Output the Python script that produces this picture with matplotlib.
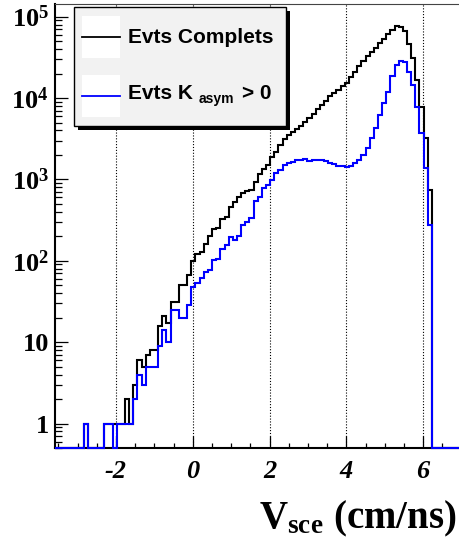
import numpy as np
import matplotlib
matplotlib.use("Agg")
import matplotlib.pyplot as plt
from matplotlib.patches import Rectangle
from matplotlib.lines import Line2D
from matplotlib.ticker import MultipleLocator, LogLocator, NullFormatter

# histogram definition: 100 bins from -3.6 to 7.2 cm/ns
x_lo, x_hi, n_bins = -3.6, 7.2, 100

evts_complets = [
    0, 0, 0, 0, 0, 0, 0, 1, 0, 0,
    0, 0, 1, 1, 1, 1, 1, 2, 1, 3,
    6, 5, 7, 8, 8, 16, 21, 17, 31, 31,
    51, 51, 66, 100, 121, 128, 162, 203, 243, 254,
    322, 342, 457, 525, 600, 676, 724, 741, 933, 1150,
    1350, 1510, 1860, 2140, 2630, 3160, 3470, 3800, 4170, 4570,
    5130, 5620, 6310, 7240, 8130, 9120, 10470, 11500, 12600, 14100,
    15500, 18200, 20900, 24500, 28200, 32400, 36300, 41700, 47300, 53300,
    61000, 68800, 77000, 75000, 66000, 46000, 31000, 16700, 7800, 3250,
    750, 0, 0, 0, 0, 0, 0, 0, 0, 0,
]

evts_kasym = [
    0, 0, 0, 0, 0, 0, 0, 1, 0, 0,
    0, 0, 1, 1, 0, 1, 1, 1, 1, 2,
    4, 3, 5, 5, 5, 9, 14, 10, 25, 25,
    20, 20, 29, 48, 53, 62, 73, 78, 102, 104,
    138, 156, 197, 178, 200, 275, 300, 332, 540, 600,
    776, 850, 990, 1190, 1300, 1500, 1580, 1650, 1740, 1720,
    1760, 1700, 1720, 1720, 1720, 1680, 1590, 1530, 1480, 1480,
    1430, 1450, 1590, 1740, 2000, 2400, 3200, 4260, 6200, 8650,
    12000, 18800, 25300, 28900, 27700, 21000, 14600, 7800, 3700, 1370,
    275, 0, 0, 0, 0, 0, 0, 0, 0, 0,
]

y_ticks = [1, 10, 100, 1e3, 1e4, 1e5]
y_labels = ["1", "10", r"$10^{2}$", r"$10^{3}$", r"$10^{4}$", r"$10^{5}$"]
x_ticks = [-2, 0, 2, 4, 6]
x_labels = ["-2", "0", "2", "4", "6"]

plt.rcParams["mathtext.fontset"] = "custom"
plt.rcParams["mathtext.rm"] = "Liberation Serif:bold"
plt.rcParams["mathtext.it"] = "Liberation Serif:italic:bold"
plt.rcParams["mathtext.bf"] = "Liberation Serif:bold"

W, H = 459, 541
ymin, ymax = 0.5, 1.43e5

fig = plt.figure(figsize=(W / 100, H / 100), dpi=100)
ax = fig.add_axes([54.5 / W, (H - 448) / H, 414.7 / W, 444 / H])
ax.set_yscale("log")
ax.set_xlim(x_lo, x_hi)
ax.set_ylim(ymin, ymax)

edges = np.linspace(x_lo, x_hi, n_bins + 1)
for x in x_ticks:
    ax.axvline(x, color="k", lw=0.8, ls=(0, (1, 1.6)), zorder=0)

ax.stairs(np.maximum(evts_complets, ymin), edges, baseline=None,
          color="black", lw=1.5, clip_on=False, zorder=3)
ax.stairs(np.maximum(evts_kasym, ymin), edges, baseline=None,
          color="#0000ff", lw=1.5, clip_on=False, zorder=4)

# axes styling
for s in ["left", "bottom"]:
    ax.spines[s].set_linewidth(1.5)
ax.spines["top"].set_linewidth(0.8)
ax.spines["top"].set_color("#444444")
ax.spines["right"].set_visible(False)

ax.set_yticks(y_ticks)
ax.set_yticklabels(y_labels, fontfamily="Liberation Serif", fontweight="bold", fontsize=19)
ax.yaxis.set_minor_locator(LogLocator(base=10, subs=np.arange(2, 10), numticks=20))
ax.yaxis.set_minor_formatter(NullFormatter())
ax.set_xticks(x_ticks)
ax.set_xticklabels(x_labels, fontfamily="Liberation Serif", fontweight="bold",
                   fontstyle="italic", fontsize=19)
ax.xaxis.set_minor_locator(MultipleLocator(0.5))
ax.tick_params(which="both", direction="in", top=False, right=False, width=0.9)
ax.tick_params(axis="y", which="major", length=9, pad=4)
ax.tick_params(axis="y", which="minor", length=5)
ax.tick_params(axis="x", which="major", length=9, pad=9)
ax.tick_params(axis="x", which="minor", length=3.6)

fig.text(456.7 / W, 1 - 528.3 / H, r"$\mathrm{V_{sce}\ (cm/ns)}$",
         ha="right", va="baseline", fontsize=28)


def fx(px):
    return px / W


def fy(py):
    return 1 - py / H


# legend box with shadow
fig.add_artist(Rectangle((fx(78), fy(130)), fx(290) - fx(78), fy(11) - fy(130),
                         transform=fig.transFigure, fc="black", ec="none", zorder=5))
fig.add_artist(Rectangle((fx(74), fy(126)), fx(286) - fx(74), fy(7) - fy(126),
                         transform=fig.transFigure, fc="#f2f2f2", ec="black", lw=1, zorder=6))
for top, bot, yl, col in [(16, 57.7, 36.7, "black"), (75, 116.7, 96, "#0000ff")]:
    fig.add_artist(Rectangle((fx(82.3), fy(bot)), fx(120) - fx(82.3), fy(top) - fy(bot),
                             transform=fig.transFigure, fc="white", ec="none", zorder=7))
    fig.add_artist(Line2D([fx(82.3), fx(120)], [fy(yl), fy(yl)], color=col, lw=1.3,
                          transform=fig.transFigure, zorder=8))

leg_font = dict(fontfamily="Liberation Sans", fontweight="bold", va="baseline", zorder=9)
fig.text(fx(127.7), fy(43.3), "Evts Complets", fontsize=15, **leg_font)
fig.text(fx(127.7), fy(99.3), "Evts K", fontsize=15, **leg_font)
fig.text(fx(199), fy(103), "asym", fontsize=10, **leg_font)
fig.text(fx(241.7), fy(99.3), "> 0", fontsize=15, **leg_font)

fig.savefig("out.png", dpi=100)
